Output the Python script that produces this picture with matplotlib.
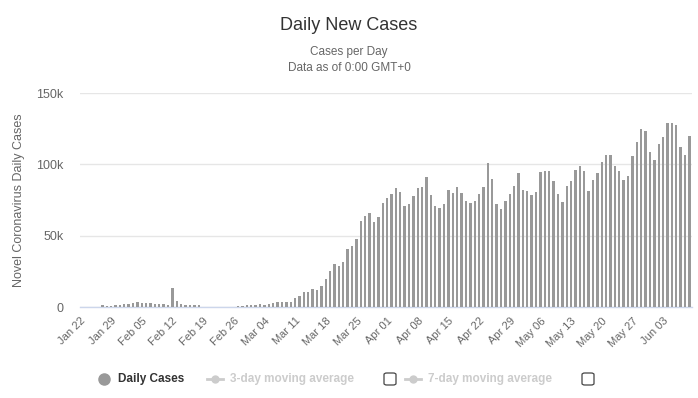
import numpy as np
import matplotlib
matplotlib.use("Agg")
import matplotlib.pyplot as plt
from matplotlib.lines import Line2D
from matplotlib.patches import FancyBboxPatch

plt.rcParams['font.family'] = ['Liberation Sans', 'DejaVu Sans']

# daily new cases, one value per day from Jan 22 to Jun 09
daily_cases = [
    0, 100, 300, 400, 500, 1400, 700, 900, 1400, 1400,              # Jan 22 - Jan 31
    2100, 2100, 3000, 3700, 3300, 3000, 3000, 2300, 2300, 2300,      # Feb 01 - Feb 10
    1400, 13800, 4700, 2300, 1600, 1600, 1600, 1600, 300, 300,       # Feb 11 - Feb 20
    400, 400, 300, 300, 400, 400, 700, 900, 1400,                    # Feb 21 - Feb 29
    1600, 1600, 2100, 1400, 2100, 2800, 3500, 3500, 3500, 3500,      # Mar 01 - Mar 10
    6500, 7900, 10500, 10700, 12600, 11900, 14900, 19900, 25500, 30400,  # Mar 11 - Mar 20
    29000, 31800, 41100, 43000, 48100, 60500, 64000, 66100, 59800, 63300,  # Mar 21 - Mar 30
    73100,                                                           # Mar 31
    76800, 79200, 83600, 80800, 70600, 72400, 78000, 83600, 84300, 91400,  # Apr 01 - Apr 10
    78700, 71000, 69600, 72400, 82200, 79900, 84300, 79900, 74500, 73100,  # Apr 11 - Apr 20
    74500, 79200, 84300, 101200, 89500, 72400, 68900, 74500, 79200, 85000,  # Apr 21 - Apr 30
    94200, 82200, 81500, 78700, 80800, 94900, 95600, 95600, 88600, 79400,  # May 01 - May 10
    73800, 85000, 88600, 96300, 99100, 95600, 81500, 89300, 94200, 101900,  # May 11 - May 20
    106800, 106800, 99100, 95600, 89300, 92100, 106100, 115900, 125000, 123600,  # May 21 - May 30
    108400,                                                          # May 31
    103300, 114500, 119400, 129200, 129200, 127800, 112400, 106800, 120100,  # Jun 01 - Jun 09
]

tick_labels = ["Jan 22", "Jan 29", "Feb 05", "Feb 12", "Feb 19", "Feb 26",
               "Mar 04", "Mar 11", "Mar 18", "Mar 25", "Apr 01", "Apr 08",
               "Apr 15", "Apr 22", "Apr 29", "May 06", "May 13", "May 20",
               "May 27", "Jun 03"]
y_ticks = [0, 50000, 100000, 150000]
y_tick_labels = ["0", "50k", "100k", "150k"]

W, H = 698, 398
fig = plt.figure(figsize=(W / 100, H / 100), dpi=100)
fig.patch.set_facecolor('white')

# plot area in pixels: x 80..692, y 93..307
ax = fig.add_axes([80 / W, 1 - 307.3 / H, 612 / W, (307.3 - 93) / H])

days = np.arange(len(daily_cases))
ax.bar(days, daily_cases, width=0.55, color='#999999', zorder=3)

ax.set_xlim(-0.1, 139.6)
ax.set_ylim(0, 150000)

ax.set_yticks(y_ticks)
ax.set_yticklabels(y_tick_labels)
ax.tick_params(axis='y', length=0, pad=12, labelsize=9, labelcolor='#666666')
ax.grid(axis='y', color='#e6e6e6', linewidth=1, zorder=0)

ax.set_xticks(np.arange(0, len(tick_labels) * 7, 7))
ax.set_xticklabels(tick_labels, rotation=45, ha='right', rotation_mode='anchor')
ax.tick_params(axis='x', length=0, pad=6, labelsize=8, labelcolor='#666666')

for side in ['top', 'right', 'left']:
    ax.spines[side].set_visible(False)
ax.spines['bottom'].set_color('#ccd6eb')
ax.spines['bottom'].set_linewidth(1)

# titles
fig.text(0.5, 1 - 25 / H, "Daily New Cases", ha='center', va='center',
         fontsize=13, color='#333333')
fig.text(0.5, 1 - 52 / H, "Cases per Day", ha='center', va='center',
         fontsize=8.5, color='#666666')
fig.text(0.5, 1 - 68 / H, "Data as of 0:00 GMT+0", ha='center', va='center',
         fontsize=8.5, color='#666666')
fig.text(19 / W, 1 - 200 / H, "Novel Coronavirus Daily Cases", rotation=90,
         ha='center', va='center', fontsize=9, color='#666666')

# legend drawn by hand, highcharts style
ly = 1 - 379 / H
fig.add_artist(Line2D([104 / W], [ly], marker='o', markersize=8,
                      color='#999999', linestyle='none'))
fig.text(118 / W, ly, "Daily Cases", ha='left', va='center', fontsize=8.5,
         fontweight='bold', color='#333333')

for x0, label, box_x in [(207, "3-day moving average", 384),
                         (405, "7-day moving average", 582)]:
    fig.add_artist(Line2D([x0 / W, (x0 + 16) / W], [ly, ly], color='#cccccc',
                          linewidth=2))
    fig.add_artist(Line2D([(x0 + 8) / W], [ly], marker='o', markersize=5,
                          color='#cccccc'))
    fig.text((x0 + 23) / W, ly, label, ha='left', va='center', fontsize=8.5,
             fontweight='bold', color='#cccccc')
    fig.add_artist(FancyBboxPatch((box_x / W, ly - 6 / H), 12 / W, 12 / H,
                                  boxstyle="round,pad=0,rounding_size=0.004",
                                  facecolor='white', edgecolor='#444444',
                                  linewidth=0.9, transform=fig.transFigure))

fig.savefig("out.png", dpi=100)
